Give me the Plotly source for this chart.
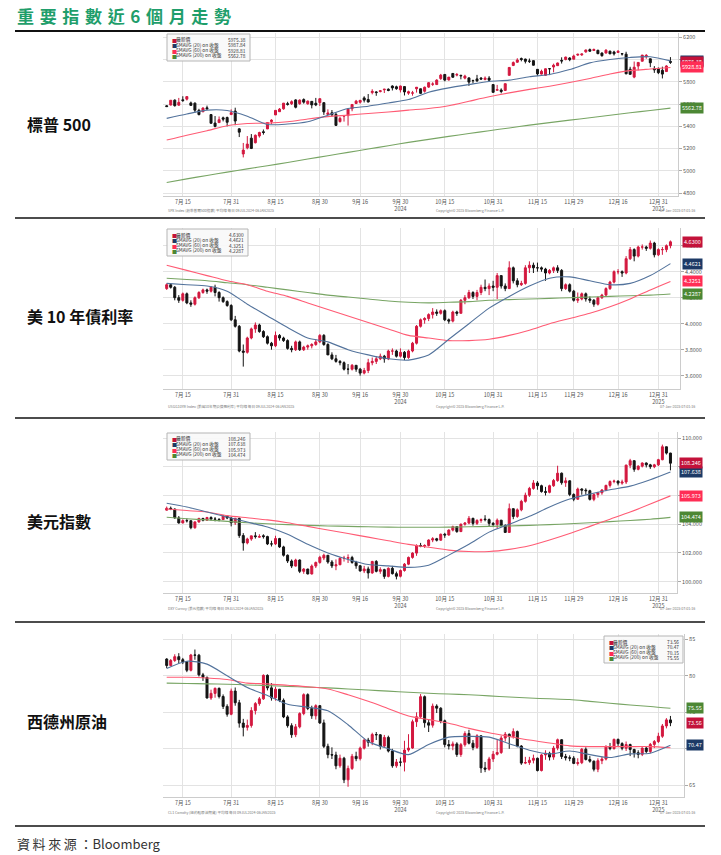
import pandas as pd
import plotly.graph_objects as go

# ---------------- categories ----------------
HOLIDAYS = ["2024-09-02", "2024-11-28", "2024-12-25", "2025-01-01"]
dates = [d.strftime("%Y-%m-%d") for d in pd.bdate_range("2024-07-09", "2025-01-06")
         if d.strftime("%Y-%m-%d") not in HOLIDAYS]
ma_dates = dates[::5]

tick_dates = ["2024-07-15", "2024-07-31", "2024-08-15", "2024-08-30", "2024-09-16", "2024-09-30",
              "2024-10-15", "2024-10-31", "2024-11-15", "2024-11-29", "2024-12-16", "2024-12-31"]
tick_text = ["7月 15", "7月 31", "8月 15", "8月 30", "9月 16", "9月 30<br>2024",
             "10月 15", "10月 31", "11月 15", "11月 29", "12月 16", "12月 31<br>2025"]

# ---------------- S&P 500 ----------------
spx_open = [5584,5591,5635,5590,5638,5644,5610,5608,5543,5530,
            5566,5505,5429,5433,5476,5479,5505,5537,5377,5151,
            5206,5293,5252,5313,5351,5376,5443,5502,5531,5557,
            5603,5603,5637,5603,5640,5602,5624,5607,5613,5612,
            5506,5521,5507,5442,5491,5496,5557,5605,5616,5655,
            5641,5703,5709,5712,5728,5733,5762,5755,5727,5757,
            5698,5698,5737,5737,5715,5752,5778,5775,5829,5866,
            5817,5875,5860,5858,5833,5835,5812,5826,5833,5820,
            5833,5775,5724,5726,5722,5858,5947,5976,6009,6004,
            5986,5990,5912,5869,5858,5918,5933,5945,5992,6000,
            6014,6003,6040,6042,6069,6089,6081,6083,6058,6058,
            6075,6068,6064,6053,6048,5913,5842,5941,5985,6025,
            6007,5920,5920,5903,5892,5983]
spx_high = [5590,5635,5642,5655,5670,5667,5622,5614,5557,5570,
            5586,5509,5492,5488,5487,5487,5552,5567,5383,5250,
            5312,5330,5326,5351,5371,5436,5463,5546,5564,5609,
            5620,5633,5643,5642,5651,5632,5627,5655,5651,5616,
            5552,5546,5523,5485,5497,5560,5600,5637,5637,5670,
            5690,5733,5716,5726,5736,5741,5768,5765,5765,5757,
            5720,5718,5753,5739,5757,5796,5796,5823,5871,5870,
            5843,5879,5879,5863,5863,5840,5818,5862,5843,5848,
            5851,5776,5772,5741,5783,5933,5983,6012,6018,6008,
            6009,5993,5915,5909,5920,5920,5963,5973,6020,6026,
            6021,6044,6053,6052,6089,6099,6099,6088,6065,6093,
            6080,6079,6085,6058,6070,5935,5982,5978,6041,6049,
            6008,5941,5929,5936,5949,6022]
spx_low = [5574,5587,5577,5584,5620,5632,5584,5522,5498,5529,
           5551,5425,5390,5430,5444,5399,5505,5410,5303,5120,
           5193,5195,5246,5298,5325,5376,5419,5501,5530,5549,
           5586,5591,5561,5593,5603,5594,5561,5581,5582,5502,
           5503,5486,5403,5434,5442,5406,5535,5604,5604,5614,
           5615,5687,5674,5705,5699,5715,5722,5728,5704,5677,
           5683,5675,5703,5690,5703,5745,5763,5774,5817,5804,
           5810,5836,5849,5822,5822,5763,5785,5800,5823,5814,
           5810,5703,5723,5696,5721,5857,5941,5971,5984,5965,
           5969,5946,5854,5865,5853,5860,5885,5944,5964,5993,
           5985,6003,6033,6033,6061,6071,6079,6048,6025,6056,
           6051,6036,6059,6036,5867,5866,5832,5903,5983,6007,
           5932,5880,5869,5830,5888,5961]
spx_close = [5577,5634,5585,5615,5631,5667,5588,5545,5505,5564,
             5556,5427,5399,5459,5464,5436,5522,5447,5347,5186,
             5240,5200,5319,5344,5344,5434,5455,5543,5554,5608,
             5597,5621,5571,5635,5617,5626,5592,5592,5648,5529,
             5520,5503,5408,5471,5496,5554,5596,5626,5633,5635,
             5618,5714,5703,5719,5733,5722,5745,5738,5762,5709,
             5710,5700,5751,5696,5751,5792,5780,5815,5860,5815,
             5842,5841,5865,5854,5851,5797,5810,5808,5824,5833,
             5814,5705,5729,5713,5783,5929,5973,5996,6001,5984,
             5985,5949,5871,5894,5917,5917,5949,5969,5987,6022,
             5999,6032,6047,6050,6086,6075,6090,6053,6035,6084,
             6051,6051,6074,6051,5872,5867,5931,5974,6040,6038,
             5971,5907,5882,5869,5942,5975.38]
spx_ma20 = [5471,5510,5545,5542,5491,5416,5420,5440,5500,5560,5580,5610,5640,
            5706,5745,5775,5803,5815,5845,5866,5910,5970,6000,6019,6025,5987.84]
spx_ma60 = [5276,5320,5360,5405,5425,5428,5440,5465,5487,5500,5515,5528,5545,
            5560,5585,5625,5665,5700,5732,5760,5793,5830,5870,5900,5915,5928.81]
spx_ma200 = [4895,4927,4958,4988,5017,5045,5075,5105,5135,5165,5195,5225,5255,
             5282,5309,5335,5360,5385,5410,5433,5455,5477,5499,5521,5542,5562.78]
spx_yticks = [4800, 5000, 5200, 5400, 5600, 5800, 6000, 6200]

# ---------------- US 10Y ----------------
ty_open = [4.27,4.30,4.28,4.20,4.18,4.23,4.16,4.15,4.20,4.24,
           4.26,4.25,4.28,4.24,4.20,4.17,4.14,4.03,3.98,3.79,
           3.78,3.89,3.96,3.99,3.94,3.90,3.85,3.83,3.91,3.89,
           3.87,3.81,3.80,3.86,3.80,3.82,3.83,3.84,3.86,3.91,
           3.84,3.76,3.73,3.71,3.70,3.65,3.65,3.68,3.65,3.62,
           3.64,3.70,3.71,3.73,3.75,3.73,3.79,3.79,3.75,3.78,
           3.74,3.79,3.85,3.98,4.03,4.04,4.07,4.09,4.08,4.10,
           4.03,4.02,4.09,4.08,4.18,4.20,4.24,4.21,4.24,4.28,
           4.27,4.29,4.28,4.37,4.29,4.27,4.43,4.33,4.30,4.31,
           4.43,4.45,4.43,4.43,4.42,4.39,4.41,4.43,4.41,4.27,
           4.30,4.25,4.18,4.19,4.23,4.19,4.18,4.15,4.20,4.22,
           4.27,4.32,4.40,4.40,4.39,4.50,4.57,4.52,4.59,4.59,
           4.58,4.62,4.53,4.57,4.57,4.60]
ty_high = [4.31,4.31,4.29,4.22,4.24,4.24,4.18,4.21,4.25,4.27,
           4.27,4.29,4.30,4.25,4.21,4.18,4.15,4.06,3.99,3.84,
           3.90,3.97,4.01,4.00,3.95,3.91,3.86,3.94,3.92,3.90,
           3.88,3.83,3.87,3.87,3.83,3.84,3.85,3.88,3.92,3.92,
           3.85,3.78,3.76,3.72,3.71,3.69,3.69,3.68,3.66,3.66,
           3.73,3.74,3.75,3.77,3.76,3.80,3.81,3.80,3.81,3.79,
           3.80,3.86,3.99,4.04,4.05,4.08,4.12,4.11,4.11,4.11,
           4.04,4.10,4.10,4.19,4.22,4.26,4.25,4.26,4.30,4.34,
           4.31,4.33,4.39,4.37,4.31,4.48,4.44,4.35,4.33,4.45,
           4.48,4.47,4.47,4.44,4.43,4.42,4.44,4.45,4.42,4.31,
           4.31,4.26,4.24,4.24,4.24,4.21,4.19,4.21,4.23,4.28,
           4.33,4.41,4.42,4.41,4.52,4.59,4.58,4.60,4.61,4.60,
           4.64,4.63,4.58,4.59,4.61,4.64]
ty_low = [4.26,4.27,4.18,4.16,4.17,4.15,4.13,4.14,4.19,4.23,
          4.23,4.24,4.21,4.17,4.16,4.13,4.02,3.97,3.78,3.67,
          3.77,3.88,3.93,3.93,3.89,3.84,3.80,3.82,3.87,3.86,
          3.80,3.78,3.79,3.79,3.79,3.80,3.81,3.83,3.85,3.83,
          3.76,3.72,3.70,3.68,3.64,3.61,3.64,3.63,3.60,3.61,
          3.62,3.68,3.69,3.72,3.70,3.72,3.76,3.74,3.74,3.72,
          3.73,3.78,3.84,3.97,4.00,4.02,4.04,4.06,4.07,4.02,
          4.00,4.01,4.06,4.08,4.15,4.19,4.19,4.18,4.22,4.25,
          4.22,4.25,4.19,4.27,4.25,4.27,4.31,4.28,4.29,4.30,
          4.39,4.39,4.40,4.40,4.33,4.38,4.39,4.39,4.25,4.26,
          4.24,4.17,4.16,4.18,4.17,4.16,4.13,4.14,4.19,4.21,
          4.26,4.31,4.38,4.36,4.38,4.49,4.48,4.51,4.57,4.56,
          4.57,4.51,4.52,4.53,4.55,4.58]
ty_close = [4.30,4.28,4.20,4.18,4.23,4.16,4.15,4.20,4.24,4.26,
            4.25,4.28,4.24,4.20,4.17,4.14,4.03,3.98,3.79,3.78,
            3.89,3.96,3.99,3.94,3.90,3.85,3.83,3.91,3.89,3.87,
            3.81,3.80,3.86,3.80,3.82,3.83,3.84,3.86,3.91,3.84,
            3.76,3.73,3.71,3.70,3.65,3.65,3.68,3.65,3.62,3.64,
            3.70,3.71,3.73,3.75,3.73,3.79,3.79,3.75,3.78,3.74,
            3.79,3.85,3.98,4.03,4.04,4.07,4.09,4.08,4.10,4.03,
            4.02,4.09,4.08,4.18,4.20,4.24,4.21,4.24,4.28,4.27,
            4.29,4.28,4.37,4.29,4.27,4.43,4.33,4.30,4.31,4.43,
            4.45,4.43,4.43,4.42,4.39,4.41,4.43,4.41,4.27,4.30,
            4.25,4.18,4.19,4.23,4.19,4.18,4.15,4.20,4.22,4.27,
            4.32,4.40,4.40,4.39,4.50,4.57,4.52,4.59,4.59,4.58,
            4.62,4.53,4.57,4.57,4.60,4.63]
ty_ma20 = [4.31,4.30,4.29,4.25,4.15,4.06,3.97,3.89,3.86,3.80,3.76,3.73,3.72,
           3.76,3.88,4.00,4.12,4.21,4.29,4.35,4.36,4.33,4.30,4.31,4.37,4.4621]
ty_ma60 = [4.45,4.41,4.37,4.33,4.30,4.25,4.21,4.16,4.11,4.06,4.01,3.96,3.91,
           3.89,3.87,3.87,3.88,3.91,3.95,4.00,4.04,4.08,4.13,4.19,4.26,4.3251]
ty_ma200 = [4.35,4.34,4.33,4.315,4.30,4.28,4.26,4.24,4.22,4.205,4.19,4.175,4.165,
            4.16,4.165,4.17,4.18,4.185,4.19,4.195,4.20,4.205,4.21,4.215,4.22,4.2287]
ty_yticks = [3.6, 3.8, 4.0, 4.2, 4.4, 4.6]

# ---------------- DXY ----------------
dxy_open = [104.98,105.11,105.05,104.44,104.09,104.25,104.24,103.76,104.16,104.40,
            104.28,104.47,104.36,104.35,104.32,104.57,104.43,104.10,104.41,103.21,
            102.70,102.97,103.19,103.10,103.20,103.14,102.63,102.63,103.00,102.42,
            101.84,101.44,101.09,101.51,100.72,100.88,100.54,101.09,101.34,101.65,
            101.84,101.37,101.10,101.18,101.63,101.63,101.68,101.34,101.11,100.75,
            100.89,100.61,101.41,100.72,100.84,100.37,100.93,100.56,100.38,100.78,
            101.22,101.69,101.99,102.52,102.47,102.52,102.90,102.99,102.89,103.30,
            103.25,103.59,103.83,103.49,104.00,104.08,104.41,104.06,104.26,104.36,
            104.32,104.06,103.99,104.28,103.91,103.43,105.08,104.54,105.00,105.59,
            106.02,106.49,106.87,106.68,106.27,106.22,106.68,107.04,107.55,106.89,
            107.02,106.07,105.74,106.45,106.37,106.33,105.73,106.06,106.19,106.38,
            106.70,106.97,107.00,106.86,106.94,108.11,108.42,107.82,108.04,108.26,
            108.13,108.00,108.13,108.49,109.39,108.95]
dxy_high = [105.23,105.23,105.10,104.57,104.34,104.40,104.28,104.20,104.45,104.45,
            104.51,104.55,104.50,104.40,104.63,104.62,104.50,104.44,104.46,103.38,
            103.06,103.20,103.45,103.30,103.30,103.20,102.85,103.20,103.05,102.50,
            101.90,101.55,101.60,101.55,100.95,100.90,101.20,101.40,101.80,101.95,
            101.85,101.50,101.55,101.70,101.80,101.90,101.80,101.45,101.15,101.10,
            101.05,101.45,101.50,101.00,100.90,101.00,101.10,100.70,100.85,101.30,
            101.75,102.05,102.60,102.70,102.60,102.95,103.10,103.05,103.35,103.40,
            103.65,103.90,103.85,104.05,104.15,104.57,104.45,104.35,104.40,104.63,
            104.40,104.15,104.40,104.30,104.00,105.44,105.10,105.10,105.70,106.20,
            106.60,107.07,107.00,106.75,106.60,106.75,107.15,108.07,107.60,107.25,
            107.05,106.15,106.55,106.50,106.50,106.40,106.15,106.25,106.45,106.75,
            107.05,107.10,107.05,107.10,108.15,108.55,108.45,108.10,108.30,108.30,
            108.20,108.20,108.55,109.54,109.40,108.97]
dxy_low = [104.96,104.98,104.38,104.04,104.06,104.12,103.65,103.68,104.10,104.20,
           104.23,104.25,104.20,104.20,104.30,104.35,103.85,103.95,103.05,102.16,
           102.60,102.85,103.00,103.05,103.00,102.55,102.45,102.55,102.35,101.75,
           101.30,100.95,101.05,100.60,100.55,100.51,100.50,100.95,101.25,101.50,
           101.25,100.95,100.80,101.15,101.40,101.30,101.25,100.90,100.70,100.60,
           100.22,100.55,100.65,100.55,100.20,100.30,100.50,100.16,100.30,100.70,
           101.15,101.60,101.80,102.40,102.35,102.45,102.75,102.80,102.85,103.05,
           103.20,103.50,103.40,103.45,103.90,104.00,103.90,103.95,104.10,104.20,
           103.85,103.80,103.70,103.85,103.40,103.40,104.35,104.45,104.90,105.50,
           105.90,106.40,106.40,106.20,106.00,106.15,106.60,106.95,106.75,106.60,
           105.95,105.60,105.70,106.05,106.05,105.65,105.60,105.85,106.05,106.30,
           106.55,106.85,106.70,106.75,106.80,107.90,107.65,107.75,107.95,107.95,
           107.85,107.90,108.05,108.45,108.85,107.75]
dxy_close = [105.11,105.05,104.44,104.09,104.25,104.24,103.76,104.16,104.40,104.28,
             104.47,104.36,104.35,104.32,104.57,104.43,104.10,104.41,103.21,102.70,
             102.97,103.19,103.14,103.14,103.14,102.63,102.63,103.00,102.42,101.84,
             101.44,101.09,101.51,100.72,100.88,100.54,101.09,101.34,101.70,101.84,
             101.37,101.10,101.18,101.63,101.63,101.68,101.34,101.11,100.75,100.89,
             100.61,101.41,100.72,100.84,100.37,100.93,100.56,100.38,100.78,101.22,
             101.69,101.99,102.52,102.47,102.52,102.90,102.99,102.89,103.30,103.25,
             103.59,103.83,103.49,104.00,104.08,104.41,104.06,104.26,104.32,104.32,
             104.06,103.99,104.28,103.91,103.43,105.08,104.54,105.00,105.59,106.02,
             106.49,106.87,106.68,106.27,106.22,106.68,107.04,107.55,106.89,107.02,
             106.07,105.74,106.45,106.37,106.33,105.73,106.06,106.19,106.38,106.70,
             106.97,107.00,106.86,106.94,108.11,108.42,107.82,108.04,108.26,108.13,
             108.00,108.13,108.49,109.39,108.95,108.246]
dxy_ma20 = [105.46,105.2,104.85,104.5,104.15,103.8,103.3,102.6,102.0,101.55,101.2,101.1,
            101.0,101.15,101.85,102.6,103.45,104.0,104.55,105.2,105.75,106.1,106.4,106.65,
            107.1,107.638]
dxy_ma60 = [105.06,104.95,104.85,104.6,104.45,104.3,104.1,103.85,103.6,103.35,103.1,102.85,
            102.6,102.4,102.2,102.1,102.1,102.25,102.5,102.9,103.35,103.85,104.35,104.85,
            105.4,105.973]
dxy_ma200 = [104.48,104.38,104.3,104.2,104.1,104.03,103.97,103.92,103.88,103.85,103.82,103.8,
             103.79,103.79,103.8,103.82,103.85,103.88,103.92,103.97,104.03,104.1,104.18,104.26,
             104.35,104.474]
dxy_yticks = [100, 102, 104, 106, 108, 110]

# ---------------- WTI ----------------
wti_open = [82.30,81.41,82.10,82.62,82.21,81.91,80.76,82.85,82.82,80.13,
            79.78,76.96,77.59,78.28,77.16,75.81,74.73,77.91,76.31,73.52,
            72.94,73.20,75.23,76.19,76.84,80.06,78.35,76.98,78.16,76.65,
            74.37,73.17,71.93,73.01,74.83,77.42,75.53,74.52,75.91,73.55,
            70.34,69.20,69.15,67.67,68.71,65.75,67.31,68.97,68.65,70.09,
            71.19,70.91,71.95,71.92,70.37,71.56,69.69,67.67,68.18,68.17,
            69.83,70.10,73.71,74.38,77.14,73.57,73.24,75.85,75.56,73.83,
            70.58,70.39,70.67,69.22,70.56,72.09,70.77,70.19,71.78,67.38,
            67.21,68.61,69.26,69.49,71.47,71.99,71.69,72.36,70.38,68.04,
            68.12,68.43,68.70,67.02,69.16,69.39,68.87,70.10,71.24,68.94,
            68.77,68.72,68.00,68.10,69.94,68.54,68.30,67.20,68.37,68.59,
            70.29,70.02,71.29,70.71,70.08,70.58,69.91,69.46,69.24,70.10,
            69.62,70.60,70.99,71.72,73.13,73.96]
wti_high = [82.40,82.30,82.95,83.10,82.45,82.00,83.00,83.60,83.00,80.40,
            79.90,78.10,78.40,78.40,77.45,76.10,78.25,78.40,76.70,74.10,
            74.00,75.70,76.40,77.10,80.20,80.20,79.00,78.50,78.20,76.90,
            74.60,73.50,73.40,75.00,77.60,77.60,75.90,76.10,76.00,74.00,
            70.70,70.20,69.60,69.20,68.90,67.70,69.30,69.60,70.30,71.40,
            71.50,72.20,72.30,72.00,71.90,71.80,70.00,68.60,68.80,71.10,
            72.00,74.00,75.00,77.50,77.30,74.00,76.20,76.10,75.70,74.00,
            71.20,71.00,70.90,70.80,72.40,72.60,71.20,72.00,71.80,68.20,
            68.90,69.70,71.20,71.80,72.30,72.10,72.80,72.50,70.50,68.90,
            68.90,69.20,68.80,69.30,69.80,69.60,70.40,71.40,71.30,69.30,
            69.10,69.00,68.70,70.10,70.20,69.00,68.40,68.70,68.90,70.50,
            70.80,71.40,71.40,70.90,71.00,70.70,70.00,69.80,70.20,70.30,
            70.80,71.20,72.20,73.40,74.20,74.50]
wti_low = [81.05,81.30,81.90,81.70,81.60,80.50,80.60,82.20,79.90,79.30,
           76.90,76.70,77.00,76.90,75.45,74.40,74.60,75.90,72.90,71.70,
           72.50,72.90,74.70,75.90,76.70,78.00,76.60,76.60,76.40,74.20,
           72.90,71.50,71.60,72.80,74.60,75.30,74.10,74.00,73.40,70.10,
           68.70,68.60,67.20,67.40,65.30,64.80,67.10,68.30,68.40,69.90,
           70.30,70.50,71.20,69.90,70.20,69.50,67.40,67.40,67.60,66.90,
           69.60,70.00,73.00,74.20,72.90,72.30,72.90,74.90,73.50,70.20,
           69.90,69.80,68.90,68.90,70.30,70.60,69.80,70.00,66.70,66.80,
           67.00,68.20,69.10,69.30,71.00,70.00,71.40,70.20,67.80,67.90,
           67.80,68.00,66.90,66.90,68.50,68.40,68.50,69.80,68.60,68.40,
           68.30,67.90,67.70,67.90,68.40,68.10,66.90,66.80,67.90,68.40,
           69.80,69.90,70.40,69.80,69.70,69.00,68.80,68.70,69.00,69.40,
           69.40,70.10,70.80,71.50,72.80,73.10]
wti_close = [81.41,82.10,82.62,82.21,81.91,80.76,82.85,82.82,80.13,79.78,
             76.96,77.59,78.28,77.16,75.81,74.73,77.91,76.31,73.52,72.94,
             73.20,75.23,76.19,76.84,80.06,78.35,76.98,78.16,76.65,74.37,
             73.17,71.93,73.01,74.83,77.42,75.53,74.52,75.91,73.55,70.34,
             69.20,69.15,67.67,68.71,65.75,67.31,68.97,68.65,70.09,71.19,
             70.91,71.95,71.92,70.37,71.56,69.69,67.67,68.18,68.17,69.83,
             70.10,73.71,74.38,77.14,73.57,73.24,75.85,75.56,73.83,70.58,
             70.39,70.67,69.22,70.56,72.09,70.77,70.19,71.78,67.38,67.21,
             68.61,69.26,69.49,71.47,71.99,71.69,72.36,70.38,68.04,68.12,
             68.43,68.70,67.02,69.16,69.39,68.87,70.10,71.24,68.94,68.77,
             68.72,68.00,68.10,69.94,68.54,68.30,67.20,68.37,68.59,70.29,
             70.02,71.29,70.71,70.08,70.58,69.91,69.46,69.24,70.10,69.62,
             70.60,70.99,71.72,73.13,73.96,73.56]
wti_ma20 = [81.0,82.0,81.6,80.0,78.4,77.3,76.1,75.7,75.2,73.3,71.0,70.0,69.2,
            70.6,71.6,71.7,71.6,70.7,69.8,69.3,69.7,69.2,68.8,69.3,69.4,70.47]
wti_ma60 = [79.8,79.8,79.7,79.5,79.0,78.9,78.7,78.5,78.2,77.4,76.5,75.5,74.5,
            74.0,73.5,72.8,72.2,71.7,71.2,70.8,70.4,70.3,70.3,70.3,70.3,70.15]
wti_ma200 = [79.0,78.95,78.9,78.85,78.75,78.65,78.55,78.45,78.35,78.2,78.05,77.9,77.75,
             77.6,77.5,77.4,77.25,77.1,76.95,76.85,76.75,76.5,76.25,76.0,75.8,75.55]
wti_yticks = [65, 70, 75, 80, 85]

# ---------------- styling / layout ----------------
W, H = 721, 855
PX = 4.03          # pixel step per trading day
FIRST = 166.7      # pixel of the first candle
LEFT = 163
FONT = "Noto Sans CJK TC, Noto Sans, sans-serif"
UP, DN = "#d3183f", "#141414"
C20, C60, C200 = "#53739c", "#ff5b74", "#78a564"
T_LAST, T20, T60, T200 = "#c3123a", "#1d3a66", "#ff2d55", "#4c8734"
GRID = "#e3e3e3"

panels = [
    dict(label="標普 500", o=spx_open, h=spx_high, l=spx_low, c=spx_close,
         m20=spx_ma20, m60=spx_ma60, m200=spx_ma200, yt=spx_yticks, fmt="{:.0f}", hide=[6000],
         top=33, bottom=196, right=678, v_top=(6200, 37.3), v_scale=1400/155.7,
         vals=["5975.38", "5987.84", "5928.81", "5562.78"], label_y=124, foot_y=210,
         leg=(167, 250, 33), foot="SPX Index (標準普爾500指數) 平均線 每日 09JUL2024-06JAN2025"),
    dict(label="美 10 年債利率", o=ty_open, h=ty_high, l=ty_low, c=ty_close,
         m20=ty_ma20, m60=ty_ma60, m200=ty_ma200, yt=ty_yticks, fmt="{:.4f}", hide=[],
         top=228, bottom=389, right=680, v_top=(4.6, 245.7), v_scale=1/130,
         vals=["4.6300", "4.4621", "4.3251", "4.2287"], label_y=316, foot_y=406,
         leg=(167, 248, 228), foot="USGG10YR Index (美國10年期公債殖利率) 平均線 每日 09JUL2024-06JAN2025"),
    dict(label="美元指數", o=dxy_open, h=dxy_high, l=dxy_low, c=dxy_close,
         m20=dxy_ma20, m60=dxy_ma60, m200=dxy_ma200, yt=dxy_yticks, fmt="{:.3f}", hide=[106],
         top=432, bottom=593, right=677, v_top=(110, 438), v_scale=1/14.37,
         vals=["108.246", "107.638", "105.973", "104.474"], label_y=521, foot_y=608,
         leg=(167, 250, 432), foot="DXY Curncy (美元指數) 平均線 每日 09JUL2024-06JAN2025"),
    dict(label="西德州原油", o=wti_open, h=wti_high, l=wti_low, c=wti_close,
         m20=wti_ma20, m60=wti_ma60, m200=wti_ma200, yt=wti_yticks, fmt="{:.0f}", hide=[70],
         top=634, bottom=797, right=684, v_top=(85, 639.3), v_scale=1/7.3,
         vals=["73.56", "70.47", "70.15", "75.55"], label_y=721, foot_y=812,
         leg=(604, 683, 635), foot="CL1 Comdty (紐約輕原油期貨) 平均線 每日 09JUL2024-06JAN2025"),
]

fig = go.Figure()
annotations = []
shapes = []
layout_axes = {}


def py(p):
    return 1 - p / H


for i, p in enumerate(panels, start=1):
    xa = "x" if i == 1 else f"x{i}"
    ya = "y" if i == 1 else f"y{i}"
    xk = "xaxis" if i == 1 else f"xaxis{i}"
    yk = "yaxis" if i == 1 else f"yaxis{i}"
    for arr, col in ((p["m200"], C200), (p["m60"], C60), (p["m20"], C20)):
        fig.add_trace(go.Scatter(x=ma_dates, y=arr, mode="lines",
                                 line=dict(color=col, width=1.1, shape="spline", smoothing=0.7),
                                 xaxis=xa, yaxis=ya, hoverinfo="skip", showlegend=False))
    fig.add_trace(go.Candlestick(x=dates, open=p["o"], high=p["h"], low=p["l"], close=p["c"],
                                 increasing=dict(line=dict(color=UP, width=1), fillcolor=UP),
                                 decreasing=dict(line=dict(color=DN, width=1), fillcolor=DN),
                                 whiskerwidth=0, xaxis=xa, yaxis=ya, showlegend=False))
    vt, vpx = p["v_top"]
    ytop = vt + (vpx - p["top"]) * p["v_scale"]
    ybot = vt - (p["bottom"] - vpx) * p["v_scale"]
    ytext = ["" if v in p["hide"] else p["fmt"].format(v) for v in p["yt"]]
    layout_axes[xk] = dict(
        domain=[LEFT / W, p["right"] / W], anchor=ya, type="category",
        categoryorder="array", categoryarray=dates,
        range=[(LEFT - FIRST) / PX, (p["right"] - FIRST) / PX],
        tickmode="array", tickvals=tick_dates, ticktext=tick_text,
        showgrid=True, gridcolor=GRID, gridwidth=1, ticks="",
        tickfont=dict(size=5.5, color="#555555", family=FONT),
        showline=True, linecolor="#cccccc", linewidth=1, zeroline=False,
        rangeslider=dict(visible=False), fixedrange=True)
    layout_axes[yk] = dict(
        domain=[py(p["bottom"]), py(p["top"])], anchor=xa, side="right",
        range=[ybot, ytop], tickmode="array", tickvals=p["yt"], ticktext=ytext,
        showgrid=True, gridcolor=GRID, gridwidth=1, ticks="outside", ticklen=3,
        tickcolor="#aaaaaa", tickfont=dict(size=5.5, color="#555555", family=FONT),
        showline=True, linecolor="#cccccc", linewidth=1, zeroline=False, fixedrange=True)

    # value tags on the right axis (drawn in stacking order, last on top)
    last_v, v20, v60, v200 = (float(v) for v in p["vals"])
    tag_order = [(v200, T200, p["vals"][3]), (v60, T60, p["vals"][2]),
                 (v20, T20, p["vals"][1]), (last_v, T_LAST, p["vals"][0])]
    if i == 1:
        tag_order = [(v200, T200, p["vals"][3]), (v20, T20, p["vals"][1]),
                     (last_v, T_LAST, p["vals"][0]), (v60, T60, p["vals"][2])]
    if i == 4:   # the 60-day tag sits fully behind the 20-day tag in the reference
        tag_order = [(v20, T20, p["vals"][1]),
                     (v200, T200, p["vals"][3]), (last_v, T_LAST, p["vals"][0])]
    for val, col, txt in tag_order:
        annotations.append(dict(xref="paper", yref=ya, x=(p["right"] + 1.5) / W, y=val,
                                xanchor="left", yanchor="middle", text=txt, showarrow=False,
                                font=dict(size=5.5, color="white", family=FONT),
                                bgcolor=col, borderpad=1))

    # legend box
    lx0, lx1, ly0 = p["leg"]
    shapes.append(dict(type="rect", xref="paper", yref="paper", x0=lx0 / W, x1=lx1 / W,
                       y0=py(ly0 + 28), y1=py(ly0 + 1), line=dict(color="#b5b5b5", width=1),
                       fillcolor="rgba(248,248,248,0.92)", layer="above"))
    rows = [("最新價", T_LAST, p["vals"][0]), ("SMAVG (20) on 收盤", T20, p["vals"][1]),
            ("SMAVG (60) on 收盤", T60, p["vals"][2]), ("SMAVG (200) on 收盤", T200, p["vals"][3])]
    for r, (name, col, val) in enumerate(rows):
        yy = py(ly0 + 6.5 + r * 5.3)
        annotations.append(dict(xref="paper", yref="paper", x=(lx0 + 2.5) / W, y=yy,
                                xanchor="left", yanchor="middle", text="■", showarrow=False,
                                font=dict(size=5, color=col, family=FONT)))
        annotations.append(dict(xref="paper", yref="paper", x=(lx0 + 7) / W, y=yy,
                                xanchor="left", yanchor="middle", text=name, showarrow=False,
                                font=dict(size=4.8, color="#333333", family=FONT)))
        annotations.append(dict(xref="paper", yref="paper", x=(lx1 - 2.5) / W, y=yy,
                                xanchor="right", yanchor="middle", text=val, showarrow=False,
                                font=dict(size=4.8, color="#333333", family=FONT)))

    # row label on the left
    annotations.append(dict(xref="paper", yref="paper", x=25 / W, y=py(p["label_y"]),
                            xanchor="left", yanchor="middle", text="<b>" + p["label"] + "</b>",
                            showarrow=False, font=dict(size=16, color="#111111", family=FONT)))
    # footer
    fy = py(p["foot_y"])
    annotations.append(dict(xref="paper", yref="paper", x=166 / W, y=fy, xanchor="left",
                            yanchor="middle", text=p["foot"], showarrow=False,
                            font=dict(size=3.6, color="#777777", family=FONT)))
    annotations.append(dict(xref="paper", yref="paper", x=470 / W, y=fy, xanchor="center",
                            yanchor="middle", text="Copyright© 2025 Bloomberg Finance L.P.",
                            showarrow=False, font=dict(size=3.6, color="#777777", family=FONT)))
    annotations.append(dict(xref="paper", yref="paper", x=697 / W, y=fy, xanchor="right",
                            yanchor="middle", text="07-Jan-2025 07:01:16", showarrow=False,
                            font=dict(size=3.6, color="#777777", family=FONT)))

# title and source
title = "\u2004".join("重要指數近6個月走勢")
annotations.append(dict(xref="paper", yref="paper", x=15 / W, y=py(15), xanchor="left",
                        yanchor="middle", text="<b>" + title + "</b>", showarrow=False,
                        font=dict(size=17, color="#1f9e6b", family=FONT)))
annotations.append(dict(xref="paper", yref="paper", x=15 / W, y=py(843), xanchor="left",
                        yanchor="middle", text="資\u2009料\u2009來\u2009源\u2009：Bloomberg",
                        showarrow=False, font=dict(size=13, color="#333333", family=FONT)))

shapes.append(dict(type="line", xref="paper", yref="paper", x0=15 / W, x1=705 / W,
                   y0=py(31), y1=py(31), line=dict(color="#111111", width=2)))
for ly in (218, 418, 622, 826):
    shapes.append(dict(type="line", xref="paper", yref="paper", x0=15 / W, x1=705 / W,
                       y0=py(ly), y1=py(ly), line=dict(color="#111111", width=1.5)))

fig.update_layout(width=W, height=H, margin=dict(l=0, r=0, t=0, b=0),
                  paper_bgcolor="white", plot_bgcolor="white", showlegend=False,
                  font=dict(family=FONT), annotations=annotations, shapes=shapes,
                  hovermode=False, **layout_axes)

fig.write_html("out.html", config={"displayModeBar": False})
